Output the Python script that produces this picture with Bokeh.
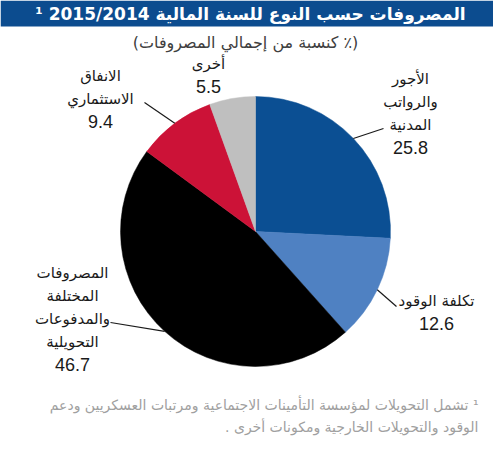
import math
from bokeh.plotting import figure
from bokeh.models import Range1d, ColumnDataSource
from bokeh.core.properties import value
from bokeh.embed import file_html
from bokeh.resources import INLINE

# ---- data ----
categories = [
    "الأجور والرواتب المدنية",
    "تكلفة الوقود",
    "المصروفات المختلفة والمدفوعات التحويلية",
    "الانفاق الاستثماري",
    "أخرى",
]
label_lines = [
    ["الأجور", "والرواتب", "المدنية"],
    ["تكلفة الوقود"],
    ["المصروفات", "المختلفة", "والمدفوعات", "التحويلية"],
    ["الانفاق", "الاستثماري"],
    ["أخرى"],
]
values = [25.8, 12.6, 46.7, 9.4, 5.5]
colors = ["#0b4f93", "#4f81c2", "#000000", "#cc1237", "#bfbfbf"]

title_text = "المصروفات حسب النوع للسنة المالية 2015/2014 ¹"
subtitle_text = "(٪ كنسبة من إجمالي المصروفات)"
footnote_lines = [
    "¹ تشمل التحويلات لمؤسسة التأمينات الاجتماعية ومرتبات العسكريين ودعم",
    "الوقود والتحويلات الخارجية ومكونات أخرى .",
]

RLE, PDF = "\u202B", "\u202C"
def rtl(s):
    return RLE + s + PDF

# ---- layout ----
W, H = 493, 450
def Y(py):
    return H - py

p = figure(width=W, height=H, x_range=Range1d(0, W), y_range=Range1d(0, H),
           output_backend="svg", toolbar_location=None, min_border=0)
p.axis.visible = False
p.grid.visible = False
p.outline_line_color = None
p.background_fill_color = "white"
p.border_fill_color = "white"

AR = value("DejaVu Sans")
NUM = value("Liberation Sans")

# title bar
p.quad(left=[0], right=[W], bottom=[Y(26)], top=[Y(0)], fill_color="#0c4c8f", line_color=None)
p.text(x=[250], y=[Y(13)], text=[rtl(title_text)], text_font=AR, text_font_style="bold",
       text_font_size="17px", text_color="white", text_align="center", text_baseline="middle")
p.text(x=[245], y=[Y(42)], text=[rtl(subtitle_text)], text_font=AR,
       text_font_size="16px", text_color="#404040", text_align="center", text_baseline="middle")

# pie
cx, cy, r = 255, Y(231), 135
total = sum(values)
starts, ends, mids = [], [], []
acc = 0.0
for v in values:
    a0 = math.pi / 2 - 2 * math.pi * acc / total
    a1 = math.pi / 2 - 2 * math.pi * (acc + v) / total
    starts.append(a0)
    ends.append(a1)
    mids.append((a0 + a1) / 2)
    acc += v
src = ColumnDataSource(dict(x=[cx] * len(values), y=[cy] * len(values),
                            start=starts, end=ends, color=colors, cat=categories))
p.wedge(x="x", y="y", radius=r, start_angle="start", end_angle="end", direction="clock",
        fill_color="color", line_color="color", line_width=0.5, source=src)

# labels
label_pos = [(410, 78), (436, 300), (72, 272), (100, 75), (208, 63)]
leader_end = [(383, 128), (396, 306), (110, 322), (144, 102), None]
step = 23
for i, lines in enumerate(label_lines):
    lx, ly = label_pos[i]
    for j, t in enumerate(lines):
        p.text(x=[lx], y=[Y(ly + j * step)], text=[t], text_font=AR, text_font_size="15px",
               text_color="#1a1a1a", text_align="center", text_baseline="middle")
    p.text(x=[lx], y=[Y(ly + len(lines) * step)], text=[f"{values[i]:.1f}"], text_font=NUM,
           text_font_size="18px", text_color="#1a1a1a", text_align="center", text_baseline="middle")
    if leader_end[i] is not None:
        sx = cx + r * math.cos(mids[i])
        sy = cy + r * math.sin(mids[i])
        ex, ey = leader_end[i]
        p.line(x=[sx, ex], y=[sy, Y(ey)], line_color="#1a1a1a", line_width=1.2)

# footnote
for j, t in enumerate(footnote_lines):
    p.text(x=[478], y=[Y(404 + j * 22)], text=[rtl(t)], text_font=AR, text_font_size="14px",
           text_color="#a0a0a0", text_align="right", text_baseline="middle")

open("out.html", "w").write(file_html(p, INLINE))
